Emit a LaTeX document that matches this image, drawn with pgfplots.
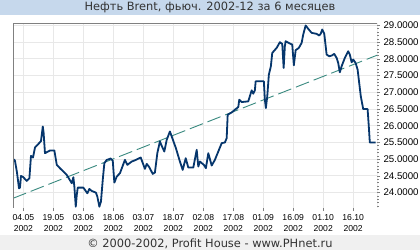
\documentclass[border=0pt]{standalone}
\usepackage{fontspec}
\setmainfont{Liberation Sans}
\newfontfamily\dejavu{DejaVu Sans}
\usepackage{pgfplots}
\pgfplotsset{compat=1.18}
\definecolor{series}{RGB}{6,54,108}
\definecolor{trend}{RGB}{58,138,128}
\definecolor{titlebg}{RGB}{198,216,236}
\definecolor{footbg}{RGB}{240,240,240}
\definecolor{gridc}{RGB}{232,232,232}
\begin{document}
\begin{tikzpicture}[x=1bp,y=1bp]
\useasboundingbox (0,0) rectangle (420,250);
\fill[white] (0,0) rectangle (420,250);
\fill[titlebg] (0,235) rectangle (420,250);
\node[font=\dejavu\fontsize{11.4bp}{13bp}\selectfont, text=black!80, inner sep=0pt] at (210,242.5) {Нефть Brent, фьюч. 2002-12 за 6 месяцев};
\fill[footbg] (0,0) rectangle (420,15);
\node[font=\dejavu\fontsize{11.4bp}{13bp}\selectfont, text=black!80, inner sep=0pt] at (210,6.5) {© 2000-2002, Profit House - www.PHnet.ru};
\begin{axis}[
  at={(13bp,42bp)}, anchor=south west,
  scale only axis, width=364bp, height=184.5bp,
  xmin=-5.2, xmax=176.9, ymin=23.54, ymax=29.06,
  axis line style={draw=none},
  xtick={0,15,30,45,60,75,90,105,120,135,150,165},
  xticklabels={{04.05\\2002},{19.05\\2002},{03.06\\2002},{18.06\\2002},{03.07\\2002},{18.07\\2002},{02.08\\2002},{17.08\\2002},{01.09\\2002},{16.09\\2002},{01.10\\2002},{16.10\\2002}},
  xticklabel style={align=center, font=\fontsize{8.6bp}{10.7bp}\selectfont},
  ytick={24,24.5,25,25.5,26,26.5,27,27.5,28,28.5,29},
  minor ytick={23.6,23.7,23.8,23.9,24.1,24.2,24.3,24.4,24.6,24.7,24.8,24.9,25.1,25.2,25.3,25.4,25.6,25.7,25.8,25.9,26.1,26.2,26.3,26.4,26.6,26.7,26.8,26.9,27.1,27.2,27.3,27.4,27.6,27.7,27.8,27.9,28.1,28.2,28.3,28.4,28.6,28.7,28.8,28.9,29.0},
  yticklabel pos=right, ytick pos=right, xtick pos=left,
  tick align=outside,
  major tick length=3bp, minor tick length=1.5bp,
  every tick/.style={draw=gray, line width=0.7bp},
  /pgf/number format/assume math mode=true,
  yticklabel style={/pgf/number format/.cd, fixed, fixed zerofill, precision=4, /tikz/.cd, font=\fontsize{9.7bp}{11bp}\selectfont},
  grid=major, major grid style={draw=gridc, line width=1bp},
]
\addplot[trend, line width=0.9bp, dash pattern=on 14bp off 5bp] coordinates {(-5.2,23.83) (176.9,28.11)};
\addplot[series, line width=1.8bp, line join=round] coordinates {
(-4.7,25.00) (-4.2,24.95) (-3.2,24.6) (-2.2,24.13) (-1.7,24.15) (-1.2,24.5) (-0.2,24.47)
(1.7,24.35) (3.0,24.43) (3.8,25.1) (4.8,25.05) (5.8,25.35) (8.8,25.54) (9.7,25.98)
(10.1,25.8) (10.8,25.18) (13.3,25.26) (15.5,25.26) (16.7,24.83) (18.3,24.73) (21.7,24.53)
(24.2,24.28) (25.0,24.46) (25.5,24.18) (26.2,23.58) (26.7,23.93) (27.2,24.15) (30.0,24.15)
(32.0,23.98) (33.0,24.11) (34.2,24.05) (36.3,24.0) (37.0,23.88) (38.0,23.58) (38.8,23.73)
(39.7,24.38) (40.5,24.88) (41.7,24.98) (43.7,25.02) (44.7,24.96) (45.5,24.3) (46.7,24.48)
(48.3,24.58) (50.8,24.98) (52.0,24.83) (54.2,24.93) (56.3,24.98) (58.7,25.05) (60.8,24.71)
(61.7,24.86) (63.0,24.76) (64.7,24.56) (65.8,24.6) (67.0,25.18) (68.3,25.53) (69.2,25.4)
(70.5,25.23) (71.7,25.58) (73.3,25.83) (76.3,25.33) (78.3,24.93) (79.7,24.68) (81.2,25.03)
(82.5,24.75) (85.0,24.75) (86.7,25.28) (87.5,24.78) (88.3,24.93) (90.3,24.83) (91.3,24.73)
(92.5,25.18) (94.2,24.81) (95.8,24.98) (99.2,25.48) (100.8,25.5) (101.7,25.63) (102.2,26.33)
(104.2,26.4) (105.8,26.48) (107.5,26.56) (108.0,26.78) (109.2,26.71) (112.5,26.73) (114.2,27.06)
(115.0,26.96) (115.8,27.06) (116.2,27.33) (120.3,27.33) (120.8,26.78) (121.3,26.53) (122.0,26.88)
(122.8,27.53) (123.8,27.78) (124.5,28.18) (126.7,28.33) (128.3,28.5) (129.5,28.45) (130.2,27.73)
(130.8,28.38) (131.2,28.53) (133.3,28.46) (134.5,28.43) (135.3,27.81) (136.2,28.26) (137.8,28.33)
(139.2,28.48) (140.0,28.73) (141.2,29.0) (142.5,28.9) (144.2,28.78) (146.7,28.75) (148.0,28.7)
(148.8,28.76) (149.5,28.88) (150.5,28.76) (151.7,28.13) (153.0,28.08) (154.2,28.1) (155.5,28.15)
(156.7,28.03) (157.5,27.88) (158.3,27.6) (159.2,27.78) (160.8,28.03) (162.5,28.23) (163.3,28.13)
(164.2,27.9) (165.0,27.98) (166.2,27.88) (167.2,27.68) (167.8,27.38) (168.8,26.88) (170.0,26.5)
(172.2,26.5) (172.8,25.98) (173.3,25.5) (176.2,25.5)
};
\draw[gray, line width=1bp] (rel axis cs:0,0) -- (rel axis cs:0,1) -- (rel axis cs:1,1) -- (rel axis cs:1,0);
\draw[gray!60, line width=1bp, dash pattern=on 4bp off 2bp] (rel axis cs:0,0) -- (rel axis cs:1,0);
\end{axis}
\end{tikzpicture}
\end{document}
